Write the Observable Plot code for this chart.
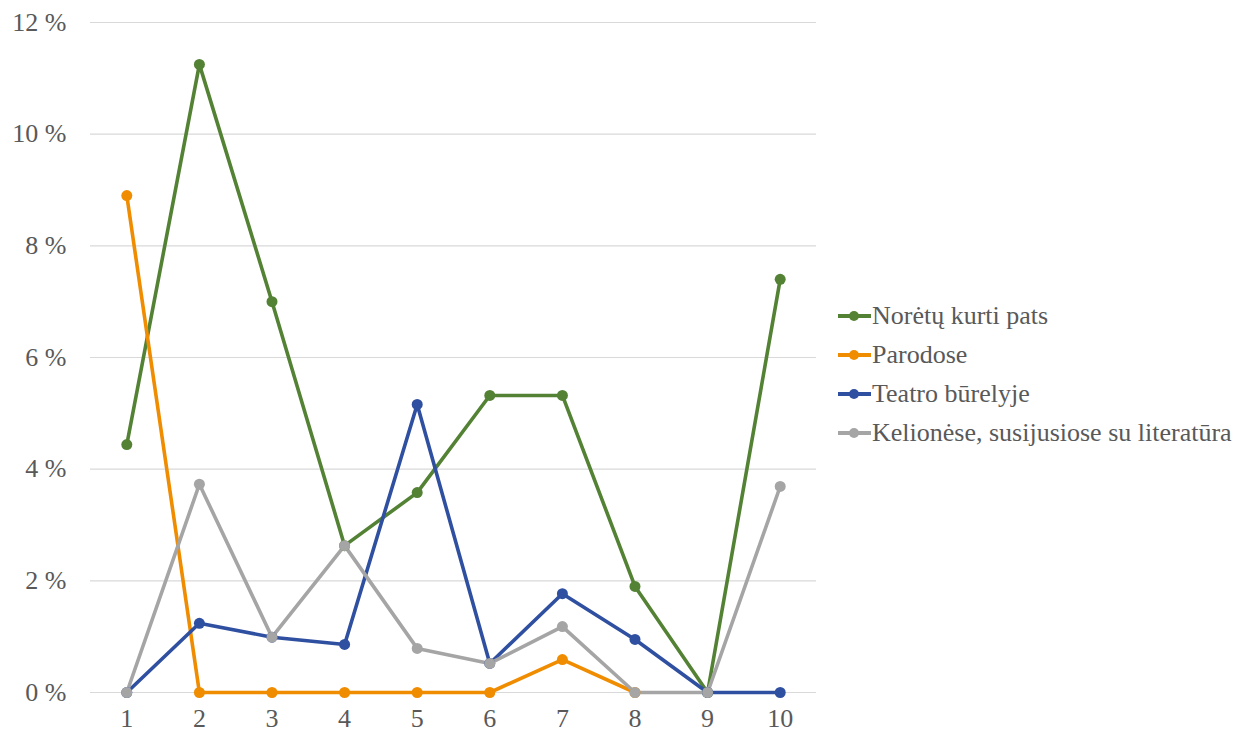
<!DOCTYPE html>
<html>
<head>
<meta charset="utf-8">
<script src="https://cdn.jsdelivr.net/npm/d3@7"></script>
<script src="https://cdn.jsdelivr.net/npm/@observablehq/plot@0.6"></script>
<style>
  body { margin: 0; background: #fff; }
  #wrap { position: relative; width: 1255px; height: 735px; font-family: "Liberation Serif", "Tinos", "Times New Roman", "DejaVu Serif", serif; }
  #wrap svg text { font-family: "Liberation Serif", "Tinos", "Times New Roman", "DejaVu Serif", serif; }
  #legend { position: absolute; left: 838px; top: 296px; color: #595959; font-size: 26px; }
  .item { display: flex; align-items: center; height: 39px; white-space: nowrap; }
  .sw { position: relative; width: 33px; height: 20px; margin-right: 1px; }
  .sw .ln { position: absolute; left: 0; right: 0; top: 8px; height: 4px; }
  .sw .dt { position: absolute; left: 11px; top: 5px; width: 10px; height: 10px; border-radius: 50%; }
</style>
</head>
<body>
<div id="wrap"><div id="legend"></div></div>
<script>
const categories = [1, 2, 3, 4, 5, 6, 7, 8, 9, 10];
const seriesNames = ["Norėtų kurti pats", "Parodose", "Teatro būrelyje", "Kelionėse, susijusiose su literatūra"];
const seriesColors = ["#548235", "#F08C00", "#2F4FA0", "#A5A5A5"];
const noretuKurtiPats = [4.44, 11.25, 7.0, 2.63, 3.58, 5.32, 5.32, 1.90, 0, 7.40];
const parodose = [8.90, 0, 0, 0, 0, 0, 0.59, 0, null, null];
const teatroBurelyje = [0, 1.24, 0.99, 0.86, 5.16, 0.52, 1.77, 0.95, 0, 0];
const kelionese = [0, 3.73, 0.99, 2.63, 0.79, 0.52, 1.18, 0, 0, 3.69];
const yTicks = [0, 2, 4, 6, 8, 10, 12];

const seriesValues = [noretuKurtiPats, parodose, teatroBurelyje, kelionese];
const data = [];
seriesValues.forEach((vals, si) => {
  vals.forEach((v, i) => {
    if (v !== null) data.push({series: seriesNames[si], x: categories[i], y: v});
  });
});

const chart = Plot.plot({
  width: 1255,
  height: 735,
  marginTop: 22,
  marginBottom: 43,
  marginLeft: 90,
  marginRight: 439,
  style: { fontFamily: "Liberation Serif, Tinos, Times New Roman, DejaVu Serif, serif", fontSize: "26px", color: "#595959", background: "#fff" },
  x: { type: "point", domain: categories, padding: 0.5, round: false, label: null },
  y: { domain: [0, 12], label: null },
  color: { domain: seriesNames, range: seriesColors },
  marks: [
    Plot.gridY(yTicks, { stroke: "#d9d9d9", strokeOpacity: 1, strokeWidth: 1.2 }),
    Plot.axisY(yTicks, { tickSize: 0, tickPadding: 24, tickFormat: d => d + " %", fill: "#595959", fontSize: 26 }),
    Plot.axisX(categories, { tickSize: 0, tickPadding: 16, fill: "#595959", fontSize: 26 }),
    Plot.line(data, { x: "x", y: "y", z: "series", stroke: "series", strokeWidth: 3.6, strokeLinejoin: "round" }),
    Plot.dot(data, { x: "x", y: "y", fill: "series", r: 5.5 })
  ]
});
const wrap = document.getElementById("wrap");
wrap.insertBefore(chart, wrap.firstChild);

const legend = document.getElementById("legend");
seriesNames.forEach((n, i) => {
  const it = document.createElement("div");
  it.className = "item";
  it.innerHTML = `<span class="sw"><span class="ln" style="background:${seriesColors[i]}"></span><span class="dt" style="background:${seriesColors[i]}"></span></span><span>${n}</span>`;
  legend.appendChild(it);
});
</script>
</body>
</html>
